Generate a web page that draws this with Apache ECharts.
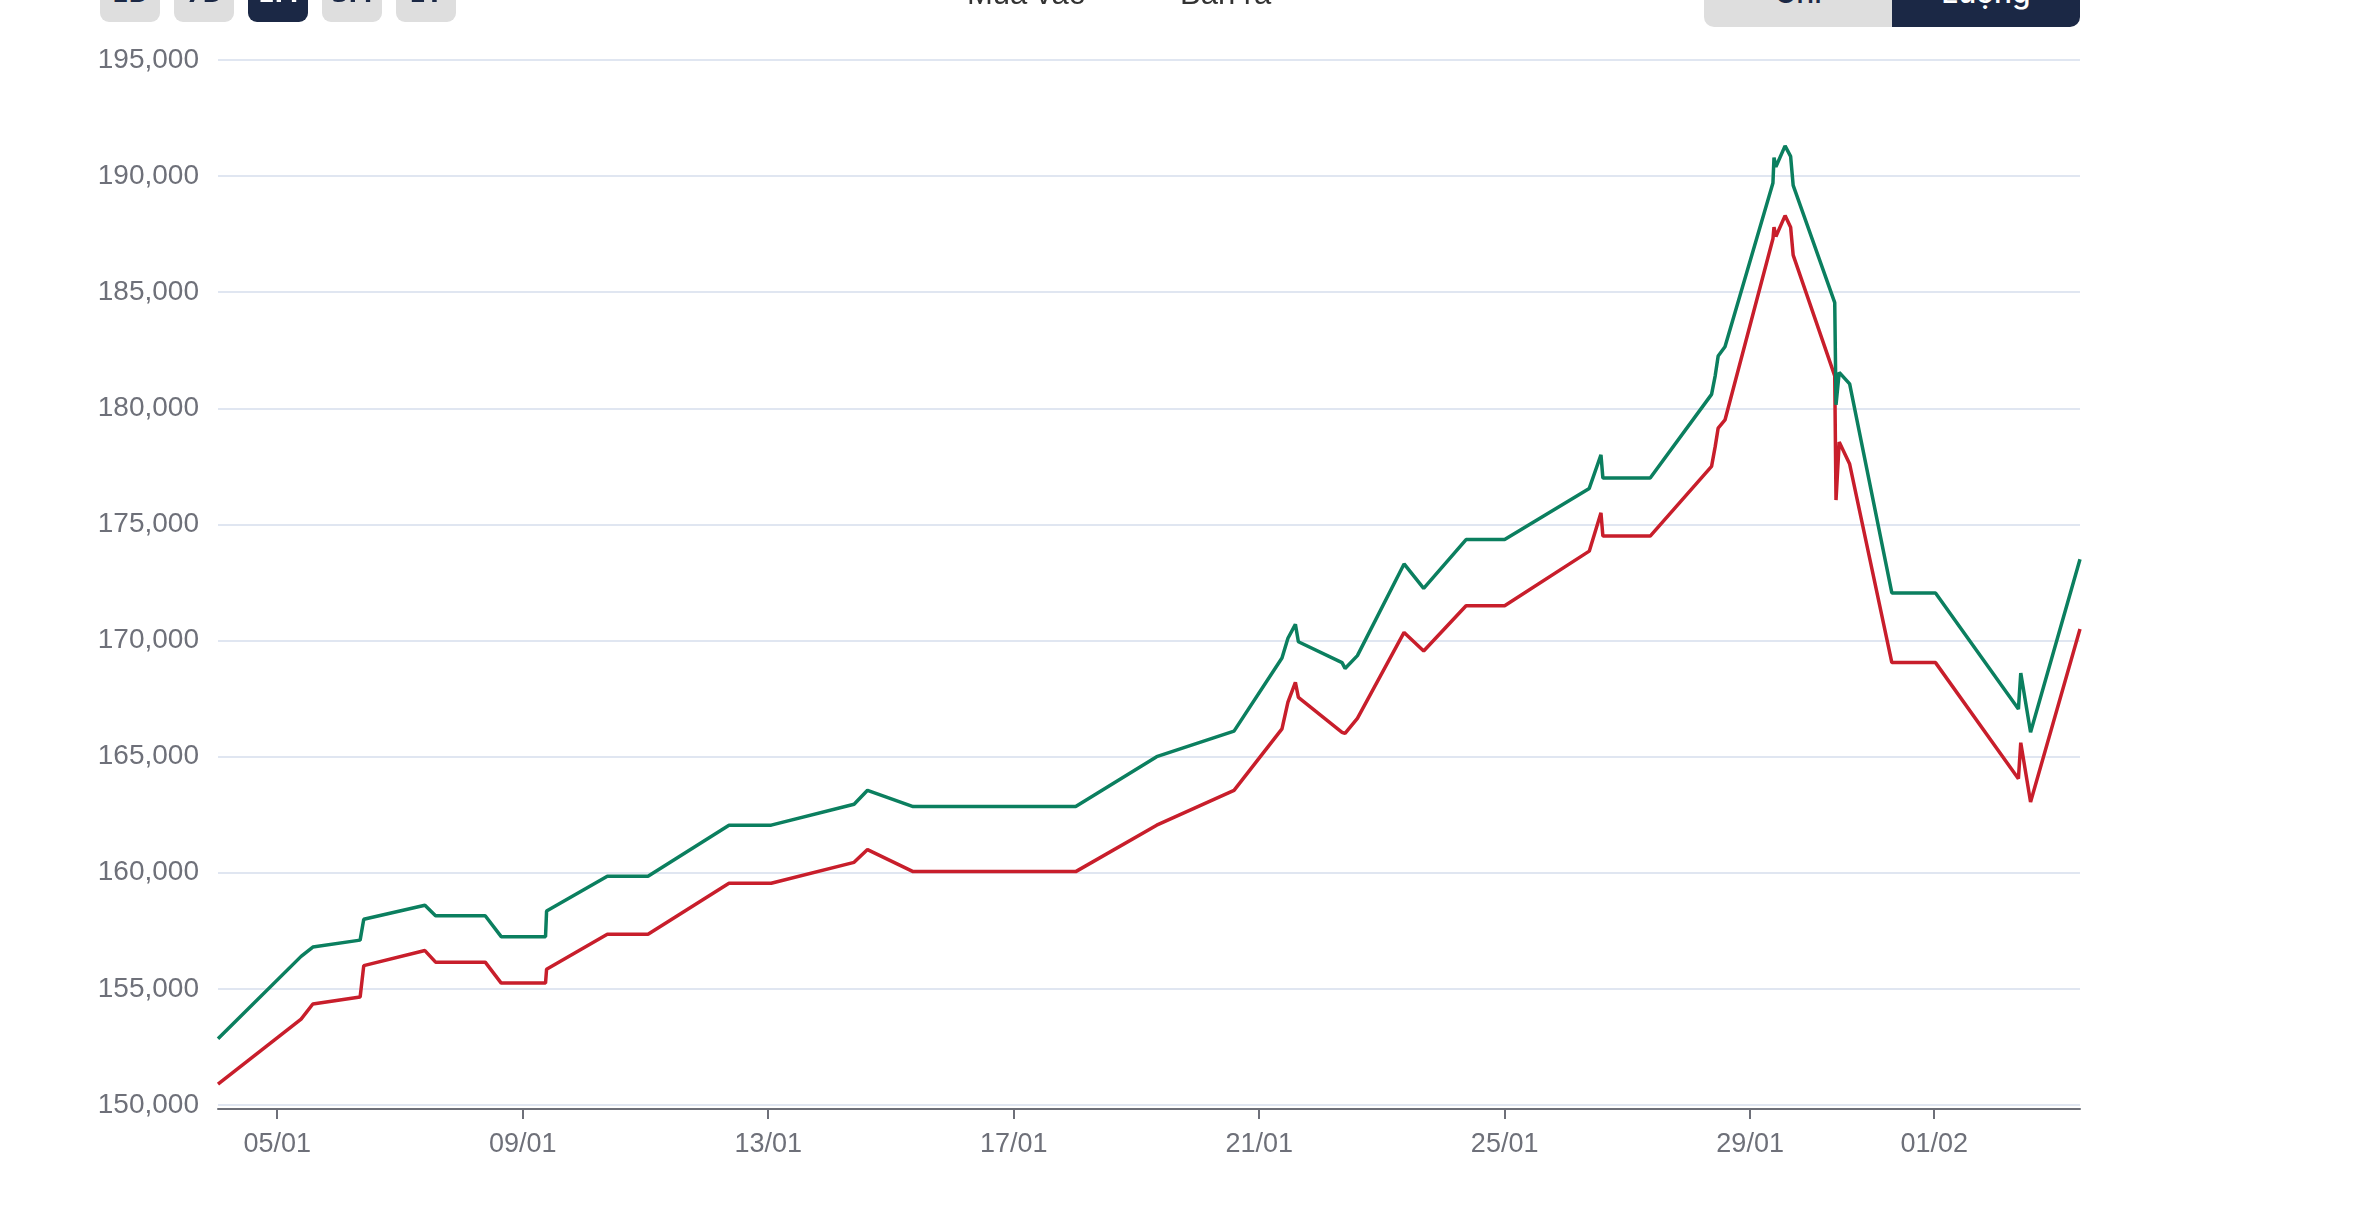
<!DOCTYPE html>
<html>
<head>
<meta charset="utf-8">
<title>Giá vàng</title>
<script src="https://cdn.jsdelivr.net/npm/echarts@6/dist/echarts.min.js"></script>
<style>
  html, body { margin: 0; padding: 0; width: 2362px; height: 1210px; overflow: hidden; background: #fff; }
  #chart { position: absolute; left: 0; top: 0; width: 2362px; height: 1210px; }
  .range-btn {
    position: absolute; top: -32px; width: 60px; height: 54px; box-sizing: border-box;
    padding-top: 12px; line-height: 24px; text-align: center; border-radius: 9px;
    background: #dedede; color: #1b2845; font: bold 24px "DejaVu Sans", sans-serif;
  }
  .range-btn.active { background: #1b2845; color: #fff; }
  .legend-text {
    position: absolute; top: -24px; line-height: 31px; font: 31px "Liberation Sans", Arial, sans-serif; color: #333;
  }
  .unit {
    position: absolute; top: -38px; height: 65px; box-sizing: border-box; padding-top: 12px;
    line-height: 30px; text-align: center; font: 500 30px Inter, sans-serif;
  }
</style>
</head>
<body>
<div id="chart"></div>

<div class="range-btn" style="left:100px">1D</div>
<div class="range-btn" style="left:174px">7D</div>
<div class="range-btn active" style="left:248px">1M</div>
<div class="range-btn" style="left:322px">3M</div>
<div class="range-btn" style="left:396px">1Y</div>

<div class="legend-text" style="left:967px">Mua vào</div>
<div class="legend-text" style="left:1180px">Bán ra</div>

<div class="unit" style="left:1704px; width:188px; background:#dedede; color:#1b2845; border-radius:10px 0 0 10px;">Chỉ</div>
<div class="unit" style="left:1892px; width:188px; background:#1b2845; color:#fff; border-radius:0 10px 10px 0;">Lượng</div>

<script>
// thời điểm cập nhật giá
const times = [
  '2026-01-04 00:50', '2026-01-05 09:20', '2026-01-05 13:55', '2026-01-06 08:25', '2026-01-06 09:50',
  '2026-01-07 09:45', '2026-01-07 13:55', '2026-01-08 09:20', '2026-01-08 15:35', '2026-01-09 08:55',
  '2026-01-09 09:20', '2026-01-10 09:05', '2026-01-11 01:00', '2026-01-12 08:40', '2026-01-13 01:10',
  '2026-01-14 09:35', '2026-01-14 14:50', '2026-01-15 08:40', '2026-01-18 00:15', '2026-01-19 07:55',
  '2026-01-20 14:10', '2026-01-21 08:55', '2026-01-21 11:15', '2026-01-21 14:10', '2026-01-21 15:20',
  '2026-01-22 08:25', '2026-01-22 09:35', '2026-01-22 14:25', '2026-01-23 08:40', '2026-01-23 16:20',
  '2026-01-24 08:55', '2026-01-25 00:00', '2026-01-26 09:05', '2026-01-26 13:40', '2026-01-26 14:25',
  '2026-01-27 08:55', '2026-01-28 08:55', '2026-01-28 10:20', '2026-01-28 11:30', '2026-01-28 14:10',
  '2026-01-29 08:55', '2026-01-29 09:20', '2026-01-29 10:05', '2026-01-29 13:40', '2026-01-29 15:50',
  '2026-01-29 16:50', '2026-01-30 09:05', '2026-01-30 09:35', '2026-01-30 10:50', '2026-01-30 14:55',
  '2026-01-31 07:25', '2026-02-01 00:30', '2026-02-02 08:55', '2026-02-02 09:50', '2026-02-02 13:40',
  '2026-02-03 09:00'
];

// Mua vào (đỏ)
const buyPrices = [
  150900, 153700, 154350, 154650, 156000,
  156650, 156150, 156150, 155250, 155250,
  155850, 157350, 157350, 159550, 159550,
  160450, 161000, 160050, 160050, 162050,
  163550, 166200, 167350, 168200, 167550,
  166050, 166000, 166650, 170350, 169550,
  171500, 171500, 173850, 175500, 174500,
  174500, 177500, 178350, 179150, 179500,
  187300, 187800, 187400, 188300, 187800,
  186600, 181400, 176050, 178550, 177600,
  169050, 169050, 164050, 165600, 163050,
  170500
];

// Bán ra (xanh)
const sellPrices = [
  152850, 156400, 156800, 157100, 158000,
  158600, 158150, 158150, 157250, 157250,
  158350, 159850, 159850, 162050, 162050,
  162950, 163550, 162850, 162850, 165000,
  166100, 169250, 170100, 170700, 169950,
  169050, 168800, 169350, 173300, 172250,
  174350, 174350, 176550, 178000, 177000,
  177000, 180600, 181400, 182250, 182650,
  189700, 190800, 190400, 191300, 190850,
  189600, 184550, 180150, 181550, 181050,
  172050, 172050, 167050, 168600, 166050,
  173500
];

const tickDates = ['2026-01-05', '2026-01-09', '2026-01-13', '2026-01-17', '2026-01-21', '2026-01-25', '2026-01-29', '2026-02-01'];

const toTs = (s) => new Date(s.length === 10 ? s + 'T00:00' : s.replace(' ', 'T')).getTime();
const tickValues = tickDates.map(toTs);
const pad = (n) => String(n).padStart(2, '0');

const chart = echarts.init(document.getElementById('chart'), null, { renderer: 'canvas' });

const red = '#c81e2b';
const green = '#0b7f5f';

chart.setOption({
  animation: false,
  grid: { left: 218, right: 282, top: 60, bottom: 105 },
  xAxis: {
    type: 'value',
    min: 'dataMin',
    max: 'dataMax',
    offset: 4,
    axisLine: { show: true, onZero: false, lineStyle: { color: '#6e7079', width: 2 } },
    axisTick: { show: true, length: 10, customValues: tickValues, lineStyle: { color: '#6e7079', width: 2 } },
    axisLabel: {
      customValues: tickValues,
      formatter: (v) => { const d = new Date(v); return pad(d.getDate()) + '/' + pad(d.getMonth() + 1); },
      fontSize: 27,
      margin: 22,
      color: '#6e7079',
      fontFamily: 'Liberation Sans'
    },
    splitLine: { show: false }
  },
  yAxis: {
    type: 'value',
    min: 150000,
    max: 195000,
    interval: 5000,
    axisLine: { show: false },
    axisTick: { show: false },
    axisLabel: { fontSize: 28, margin: 19, color: '#6e7079', fontFamily: 'Liberation Sans' },
    splitLine: { lineStyle: { color: '#e0e6f1', width: 2 } }
  },
  series: [
    {
      name: 'Mua vào',
      type: 'line',
      showSymbol: false,
      data: times.map((t, i) => [toTs(t), buyPrices[i]]),
      lineStyle: { color: red, width: 3.5 },
      itemStyle: { color: red }
    },
    {
      name: 'Bán ra',
      type: 'line',
      showSymbol: false,
      data: times.map((t, i) => [toTs(t), sellPrices[i]]),
      lineStyle: { color: green, width: 3.5 },
      itemStyle: { color: green }
    }
  ]
});
</script>
</body>
</html>
